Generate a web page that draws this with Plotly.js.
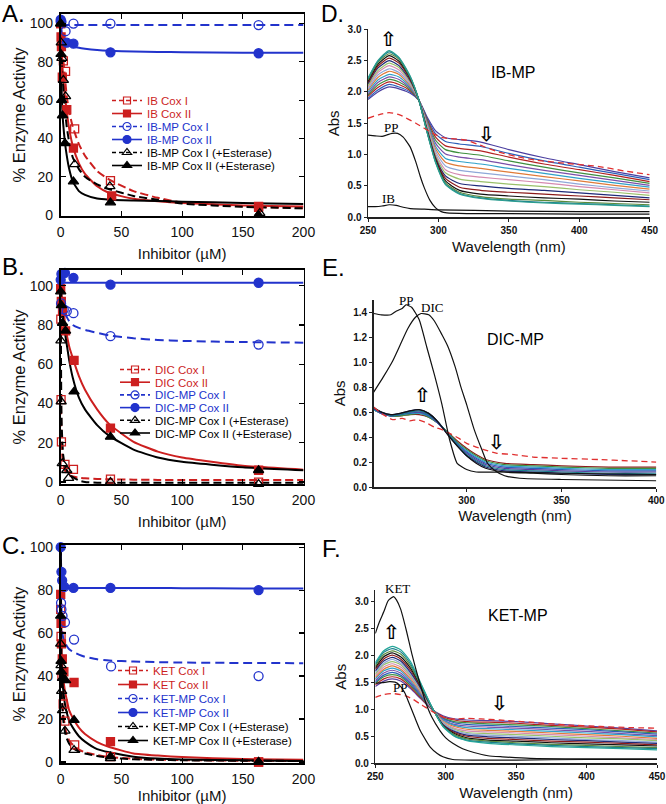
<!DOCTYPE html>
<html><head><meta charset="utf-8">
<script src="https://cdn.plot.ly/plotly-3.0.1.min.js"></script>
<style>html,body{margin:0;padding:0;background:#fff}#chart{width:666px;height:804px}</style>
</head><body><div id="chart"></div>
<script>
// ================= DATA =================
// Common concentration grid for the fitted curves (µM)
const fitGrid = [0,0.5,1,2,3.5,5,7,10,15,20,30,40,60,80,100,150,200];

// ---- Panel A : IB / IB-MP ----
const A_IB_CoxI_x   = [0, 1, 2.2, 4, 11.5, 41, 163];
const A_IB_CoxI_y   = [100, 90, 80.5, 75, 45, 18, 4];
const A_IB_CoxII_x  = [0, 0.3, 0.6, 1.3, 5, 10.5, 42, 163];
const A_IB_CoxII_y  = [100, 93, 88, 72, 55, 35, 10, 4.5];
const A_MP_CoxI_x   = [0, 4, 10.5, 41, 163];
const A_MP_CoxI_y   = [101, 96, 100, 100, 99.2];
const A_MP_CoxII_x  = [0, 0.6, 5, 10.5, 41, 163];
const A_MP_CoxII_y  = [102, 101, 90, 89.5, 85, 84.5];
const A_EstI_x      = [0, 0.5, 1, 2.2, 4, 11.5, 40.5, 164];
const A_EstI_y      = [100, 90, 82, 70.5, 62, 26.5, 15, 1];
const A_EstII_x     = [0, 0.3, 0.8, 1.5, 3.5, 10.5, 41, 163];
const A_EstII_y     = [100, 84, 60, 52, 37.5, 17.5, 6.5, 0];
const A_fit_IB_CoxI  = [100,95,90,82,72,62,54,46,37,31,23,18.5,12.5,9,6.5,4.5,3.6];
const A_fit_IB_CoxII = [100,90,83,72,62,54,45,36,27,21.5,15,11.5,8.5,7.2,6.3,5,4.4];
const A_fit_MP_CoxI  = [100,99.8,99.6,99.4,99.3,99.3,99.3,99.3,99.3,99.3,99.3,99.3,99.3,99.3,99.2,99.2,99.2];
const A_fit_MP_CoxII = [101,97,95,92.5,90.5,89.5,88.8,88.2,87.4,86.9,86.2,85.8,85.4,85.2,85,84.8,84.7];
const A_fit_EstI     = [100,88,80,68,55,46,38,30,24,20,16,13.5,10,8,6,4.3,3.5];
const A_fit_EstII    = [100,72,60,48,38,31,24,17.5,12.5,10.5,8.6,8,7.6,7.3,7,6.3,5.8];

// ---- Panel B : DIC / DIC-MP ----
const B_DIC_CoxI_x  = [0.1, 0.3, 0.6, 3.5, 10.5, 41, 163];
const B_DIC_CoxI_y  = [83, 42, 20.5, 9, 6.5, 1.5, 0];
const B_DIC_CoxII_x = [0, 0.5, 1.5, 4, 11, 41, 163];
const B_DIC_CoxII_y = [98.5, 92, 87, 77, 62, 27.5, 6];
const B_MP_CoxI_x   = [0.3, 2.5, 5, 10.5, 41, 163];
const B_MP_CoxI_y   = [91, 88, 87, 86, 74.3, 70];
const B_MP_CoxII_x  = [0, 0.6, 3.5, 10.5, 41, 163];
const B_MP_CoxII_y  = [103, 106, 106.5, 104, 100.5, 101.5];
const B_EstI_x      = [0.2, 0.4, 1.3, 5, 6.5, 41, 163];
const B_EstI_y      = [72, 41, 9.5, 6, 2, 0, -1];
const B_EstII_x     = [0, 0.6, 1.5, 4, 11, 41, 163];
const B_EstII_y     = [97, 90, 81, 77, 46, 23, 6];
const B_fit_DIC_CoxI  = [100,24,16,9,6,4.5,3.5,2.8,2.2,1.9,1.6,1.4,1.2,1.1,1,1,1];
const B_fit_DIC_CoxII = [100,97,93,87,80,75,69,63,54,47,37,29.5,20.5,15.5,12.5,8.3,6.3];
const B_fit_MP_CoxI   = [100,96,93,89.5,86,84,82,80,78.5,77.5,76,74.7,73.2,72.4,71.9,71.3,71];
const B_fit_MP_CoxII  = [101.5,101.5,101.5,101.5,101.5,101.5,101.5,101.5,101.5,101.5,101.5,101.5,101.5,101.5,101.5,101.5,101.5];
const B_fit_EstI      = [100,40,26,14,8.5,6,4,2.5,0.8,0,-0.3,-0.3,-0.3,-0.3,-0.3,-0.3,-0.3];
const B_fit_EstII     = [100,95,90,84,76,70,62,53,43,37,29,23.5,16.5,12.5,10.3,7.5,6];

// ---- Panel C : KET / KET-MP ----
const C_KET_CoxI_x  = [0, 0.3, 1, 2, 3.5, 11.5, 41, 163];
const C_KET_CoxI_y  = [71, 58.5, 40, 27, 19, 8, 2.5, 0];
const C_KET_CoxII_x = [0, 0.3, 0.6, 1.3, 2.6, 11, 41, 163];
const C_KET_CoxII_y = [78, 64.5, 55, 48, 42, 37, 9.5, 0];
const C_MP_CoxI_x   = [0.3, 0.6, 1.5, 3.5, 11, 41.5, 163];
const C_MP_CoxI_y   = [74, 71, 68, 65, 57, 44.5, 40];
const C_MP_CoxII_x  = [0, 0.6, 1.2, 3, 10.5, 41, 163];
const C_MP_CoxII_y  = [100, 88.5, 84.5, 81.5, 81, 81, 80];
const C_EstI_x      = [0, 0.3, 0.8, 1.5, 3.5, 11, 41, 163];
const C_EstI_y      = [55, 45, 33, 24, 14.5, 5.5, 1.7, 0];
const C_EstII_x     = [0, 0.3, 0.6, 1.5, 4, 11, 41, 163];
const C_EstII_y     = [68, 47, 42, 39, 38, 19.5, 2.5, 0];
const C_fit_KET_CoxI  = [100,44,33,23,16.5,13,10,8,5.8,4.5,3.2,2.3,1.5,1.1,0.9,0.6,0.5];
const C_fit_KET_CoxII = [100,58,48,40,33,29,24,20.5,16,13,9.3,7,4,3,2.3,1.4,1];
const C_fit_MP_CoxI   = [100,72,62,58,55.5,54,52.5,51.3,50,49,47.8,47.2,46.8,46.5,46.3,46.1,46];
const C_fit_MP_CoxII  = [100,88,83.5,81.8,81.2,81,81,81,81,81,81,81,81,81,80.9,80.8,80.8];
const C_fit_EstI      = [100,38,29,20,14,11,8.5,6.5,4.8,4,2.8,2,1.3,1,0.8,0.6,0.5];
const C_fit_EstII     = [100,52,42,34,27,23,19,16,12,9.5,6,4.5,2.5,1.6,1.2,0.8,0.5];

// ---- Legend labels ----
const A_labels = ['IB Cox I','IB Cox II','IB-MP Cox I','IB-MP Cox II','IB-MP Cox I (+Esterase)','IB-MP Cox II (+Esterase)'];
const B_labels = ['DIC Cox I','DIC Cox II','DIC-MP Cox I','DIC-MP Cox II','DIC-MP Cox I (+Esterase)','DIC-MP Cox II (+Esterase)'];
const C_labels = ['KET Cox I','KET Cox II','KET-MP Cox I','KET-MP Cox II','KET-MP Cox I (+Esterase)','KET-MP Cox II (+Esterase)'];

// ---- Panel D : IB-MP spectra ----
const D_wave = [250,257,265,272,280,286,292,298,305,315,330,350,375,400,425,450];
const D_spectra = [
 [1.88,2.00,2.08,2.05,1.98,1.87,1.60,1.38,1.27,1.24,1.20,1.08,0.95,0.84,0.73,0.63],
 [1.90,2.03,2.12,2.08,2.00,1.87,1.58,1.33,1.21,1.17,1.13,1.02,0.90,0.80,0.70,0.60],
 [1.93,2.07,2.16,2.12,2.02,1.87,1.56,1.28,1.14,1.10,1.06,0.96,0.85,0.76,0.67,0.57],
 [1.95,2.11,2.20,2.16,2.04,1.87,1.54,1.23,1.08,1.03,0.99,0.90,0.80,0.71,0.63,0.54],
 [1.97,2.15,2.24,2.20,2.06,1.88,1.52,1.18,1.01,0.96,0.92,0.84,0.75,0.67,0.59,0.51],
 [2.00,2.19,2.28,2.24,2.08,1.88,1.50,1.13,0.94,0.89,0.85,0.78,0.70,0.62,0.55,0.48],
 [2.03,2.23,2.33,2.28,2.10,1.88,1.48,1.09,0.88,0.82,0.78,0.72,0.65,0.58,0.51,0.45],
 [2.05,2.27,2.37,2.31,2.12,1.88,1.46,1.05,0.82,0.75,0.71,0.66,0.60,0.53,0.47,0.42],
 [2.08,2.31,2.42,2.35,2.14,1.88,1.44,1.01,0.76,0.68,0.64,0.60,0.55,0.49,0.44,0.39],
 [2.10,2.34,2.46,2.39,2.16,1.88,1.42,0.98,0.71,0.61,0.57,0.53,0.49,0.44,0.40,0.35],
 [2.13,2.38,2.50,2.42,2.18,1.88,1.40,0.95,0.66,0.54,0.50,0.46,0.43,0.39,0.35,0.31],
 [2.15,2.41,2.54,2.46,2.20,1.88,1.38,0.93,0.62,0.48,0.43,0.40,0.37,0.34,0.31,0.28],
 [2.17,2.44,2.58,2.49,2.22,1.88,1.37,0.91,0.58,0.43,0.37,0.34,0.31,0.29,0.26,0.24],
 [2.19,2.47,2.61,2.52,2.23,1.88,1.36,0.89,0.55,0.40,0.33,0.29,0.27,0.24,0.22,0.20],
 [2.21,2.49,2.64,2.54,2.24,1.88,1.35,0.88,0.53,0.38,0.31,0.27,0.24,0.22,0.20,0.18],
 [2.22,2.50,2.66,2.55,2.25,1.88,1.35,0.87,0.52,0.37,0.30,0.26,0.23,0.21,0.19,0.17]
];
const D_PP_x = [250,255,260,263,267,271,275,280,284,287,290,294,298,302,306,320,350,400,450];
const D_PP_y = [1.31,1.30,1.29,1.31,1.34,1.34,1.28,1.12,0.88,0.66,0.47,0.27,0.15,0.09,0.07,0.06,0.06,0.05,0.05];
const D_IB_x = [250,255,260,265,270,275,280,290,300,350,400,450];
const D_IB_y = [0.17,0.17,0.18,0.20,0.19,0.16,0.14,0.13,0.12,0.10,0.09,0.09];
const D_init_x = [250,258,265,272,284,296,303,312,320,332,343,355,370,391,414,432,450];
const D_init_y = [1.58,1.64,1.67,1.64,1.50,1.34,1.27,1.25,1.23,1.13,1.04,0.97,0.91,0.86,0.81,0.74,0.68];

// ---- Panel E : DIC-MP spectra ----
const E_wave = [251,255,260,265,270,275,280,285,290,295,300,305,310,320,335,350,375,400];
const E_spectra = [
 [0.62,0.59,0.57,0.57,0.58,0.58,0.56,0.51,0.44,0.37,0.31,0.26,0.22,0.19,0.18,0.17,0.16,0.16],
 [0.62,0.59,0.57,0.57,0.58,0.59,0.56,0.51,0.44,0.36,0.30,0.25,0.21,0.18,0.17,0.16,0.15,0.15],
 [0.62,0.59,0.57,0.58,0.59,0.59,0.57,0.51,0.43,0.35,0.29,0.24,0.20,0.17,0.16,0.15,0.14,0.14],
 [0.63,0.59,0.57,0.58,0.59,0.60,0.57,0.51,0.43,0.35,0.28,0.23,0.19,0.16,0.15,0.14,0.13,0.13],
 [0.63,0.59,0.57,0.58,0.60,0.60,0.58,0.51,0.43,0.34,0.27,0.22,0.18,0.15,0.14,0.13,0.12,0.12],
 [0.63,0.60,0.57,0.58,0.60,0.61,0.58,0.52,0.43,0.34,0.26,0.21,0.17,0.14,0.13,0.12,0.11,0.11],
 [0.63,0.60,0.58,0.59,0.61,0.62,0.59,0.52,0.42,0.33,0.25,0.20,0.16,0.13,0.12,0.11,0.10,0.10],
 [0.64,0.60,0.58,0.59,0.61,0.62,0.59,0.52,0.42,0.33,0.25,0.19,0.15,0.12,0.11,0.10,0.09,0.09]
];
const E_PP_x = [251,255,260,263,266,268,271,275,279,283,287,291,295,300,305,320,350,400];
const E_PP_y = [1.39,1.38,1.38,1.41,1.43,1.46,1.44,1.34,1.12,0.90,0.66,0.38,0.19,0.14,0.12,0.12,0.11,0.10];
const E_DIC_x = [251,256,261,265,269,273,276,280,283,287,290,294,297,300,304,308,311,315,320,328,350,400];
const E_DIC_y = [0.76,0.88,1.01,1.14,1.27,1.36,1.39,1.38,1.33,1.22,1.13,0.96,0.80,0.66,0.46,0.30,0.19,0.13,0.09,0.07,0.06,0.05];
const E_init_x = [251,256,261,266,270,274,278,283,287,291,296,300,305,309,316,325,335,350,370,385,400];
const E_init_y = [0.64,0.58,0.54,0.55,0.53,0.54,0.52,0.48,0.46,0.43,0.39,0.35,0.32,0.30,0.27,0.26,0.24,0.23,0.22,0.21,0.20];

// ---- Panel F : KET-MP spectra ----
const F_wave = [250,256,262,268,275,282,290,298,306,315,330,350,375,400,425,450];
const F_spectra = [
 [1.42,1.52,1.56,1.52,1.38,1.20,1.00,0.88,0.82,0.80,0.79,0.77,0.73,0.69,0.65,0.60],
 [1.45,1.56,1.60,1.56,1.41,1.22,1.00,0.86,0.80,0.77,0.76,0.74,0.70,0.67,0.63,0.58],
 [1.48,1.60,1.64,1.60,1.44,1.24,1.01,0.84,0.77,0.75,0.73,0.71,0.68,0.64,0.60,0.56],
 [1.50,1.63,1.68,1.63,1.47,1.26,1.01,0.83,0.75,0.72,0.70,0.68,0.65,0.62,0.58,0.54],
 [1.53,1.67,1.72,1.67,1.50,1.28,1.01,0.81,0.72,0.69,0.67,0.65,0.62,0.59,0.55,0.51],
 [1.56,1.71,1.76,1.71,1.53,1.30,1.02,0.80,0.70,0.66,0.64,0.62,0.59,0.56,0.53,0.49],
 [1.59,1.74,1.80,1.74,1.56,1.32,1.02,0.78,0.68,0.63,0.61,0.59,0.56,0.53,0.50,0.46],
 [1.62,1.78,1.84,1.78,1.59,1.34,1.02,0.77,0.65,0.60,0.58,0.56,0.53,0.50,0.47,0.44],
 [1.65,1.82,1.88,1.82,1.62,1.36,1.03,0.75,0.63,0.57,0.55,0.53,0.50,0.47,0.45,0.42],
 [1.68,1.85,1.92,1.85,1.65,1.38,1.03,0.74,0.61,0.55,0.52,0.50,0.47,0.44,0.42,0.39],
 [1.71,1.89,1.96,1.89,1.68,1.40,1.03,0.72,0.59,0.52,0.49,0.47,0.44,0.42,0.39,0.37],
 [1.74,1.93,2.00,1.93,1.72,1.42,1.04,0.71,0.57,0.50,0.46,0.44,0.41,0.39,0.37,0.34],
 [1.77,1.97,2.04,1.97,1.76,1.44,1.04,0.70,0.55,0.47,0.43,0.41,0.38,0.36,0.34,0.32],
 [1.80,2.01,2.08,2.02,1.80,1.46,1.04,0.69,0.53,0.45,0.41,0.38,0.35,0.33,0.31,0.29],
 [1.83,2.05,2.12,2.06,1.84,1.48,1.05,0.69,0.51,0.43,0.39,0.36,0.33,0.31,0.29,0.27],
 [1.86,2.08,2.16,2.10,1.88,1.50,1.05,0.68,0.50,0.42,0.37,0.34,0.31,0.29,0.27,0.25]
];
const F_KET_x = [250,253,256,259,261,263,265,268,272,276,279,283,286,290,296,300,305,312,320,330,340,360,400,450];
const F_KET_y = [2.40,2.62,2.80,3.00,3.05,3.08,3.02,2.85,2.46,2.02,1.72,1.36,1.11,0.86,0.60,0.47,0.37,0.27,0.20,0.14,0.12,0.09,0.08,0.08];
const F_PP_x = [250,255,260,264,267,271,274,278,282,286,289,294,298,305,320,350,400,450];
const F_PP_y = [1.48,1.49,1.51,1.50,1.45,1.30,1.11,0.85,0.60,0.42,0.30,0.18,0.12,0.07,0.06,0.06,0.07,0.07];
const F_init_x = [250,256,262,268,272,277,281,286,291,296,300,307,315,325,338,360,385,410,430,450];
const F_init_y = [1.22,1.27,1.29,1.27,1.24,1.18,1.11,1.03,0.95,0.88,0.83,0.82,0.83,0.82,0.80,0.76,0.71,0.68,0.66,0.65];

// ================= STYLES =================
const W = 666, H = 804;
const RED = '#cc1f1f', BLUE = '#2233cc', BLK = '#000000';
const FONT = 'Liberation Sans, Arial, Helvetica, sans-serif';
const SERIF = 'Liberation Serif, Times New Roman, serif';
const styles = [
  {color: RED,  symbol: 'square-open',      dash: '8px,4px', size: 8},
  {color: RED,  symbol: 'square',           dash: 'solid',   size: 8},
  {color: BLUE, symbol: 'circle-open',      dash: '9px,5px', size: 9},
  {color: BLUE, symbol: 'circle',           dash: 'solid',   size: 9},
  {color: BLK,  symbol: 'triangle-up-open', dash: '8px,4px', size: 9},
  {color: BLK,  symbol: 'triangle-up',      dash: 'solid',   size: 9}
];
const D_colors = ['#4B3FA0','#2B5FB8','#B22222','#3F8F3F','#7A4FA8','#2FA0C8','#E07B39','#8FA8D8','#D58AB0','#9AC06A','#1E2A78','#8B1A1A','#111111','#5B8A3A','#1B7F8C','#2A9D8F'];
const F_colors = ['#5A3E9E','#B22222','#3F8F3F','#2B5FB8','#7A4FA8','#2FA0C8','#E07B39','#D58AB0','#9AC06A','#8FA8D8','#1E2A78','#8B1A1A','#111111','#5B8A3A','#1B7F8C','#26A69A'];
const E_colors = ['#8B1A1A','#3F8F3F','#2FA0C8','#2B5FB8','#5A3E9E','#1B7F8C','#1E2A78','#111111'];

// ================= TRACES =================
const traces = [];
function addPanel(ax, legendId, labels, pts, fits) {
  const xa = 'x' + (ax === 1 ? '' : ax), ya = 'y' + (ax === 1 ? '' : ax);
  fits.forEach((fy, i) => {
    const s = styles[i];
    traces.push({x: fitGrid, y: fy, xaxis: xa, yaxis: ya, mode: 'lines', showlegend: false,
      line: {color: s.color, width: 2, dash: s.dash, shape: 'spline', smoothing: 0.5}});
  });
  pts.forEach((p, i) => {
    const s = styles[i];
    traces.push({x: p[0], y: p[1], xaxis: xa, yaxis: ya, mode: 'markers', showlegend: false, cliponaxis: false,
      marker: {color: s.color, symbol: s.symbol, size: s.size, line: {color: s.color, width: 1.3}}});
  });
  labels.forEach((lab, i) => {
    const s = styles[i];
    traces.push({x: [null], y: [null], xaxis: xa, yaxis: ya, mode: 'lines+markers', name: '<span style="color:' + s.color + '">' + lab + '</span>',
      legend: legendId, showlegend: true,
      line: {color: s.color, width: 1.6, dash: s.dash === 'solid' ? 'solid' : '4px,3px'},
      marker: {color: s.color, symbol: s.symbol, size: s.size - 1, line: {color: s.color, width: 1.2}}});
  });
}
addPanel(1, 'legend', A_labels,
  [[A_IB_CoxI_x, A_IB_CoxI_y],[A_IB_CoxII_x, A_IB_CoxII_y],[A_MP_CoxI_x, A_MP_CoxI_y],[A_MP_CoxII_x, A_MP_CoxII_y],[A_EstI_x, A_EstI_y],[A_EstII_x, A_EstII_y]],
  [A_fit_IB_CoxI, A_fit_IB_CoxII, A_fit_MP_CoxI, A_fit_MP_CoxII, A_fit_EstI, A_fit_EstII]);
addPanel(2, 'legend2', B_labels,
  [[B_DIC_CoxI_x, B_DIC_CoxI_y],[B_DIC_CoxII_x, B_DIC_CoxII_y],[B_MP_CoxI_x, B_MP_CoxI_y],[B_MP_CoxII_x, B_MP_CoxII_y],[B_EstI_x, B_EstI_y],[B_EstII_x, B_EstII_y]],
  [B_fit_DIC_CoxI, B_fit_DIC_CoxII, B_fit_MP_CoxI, B_fit_MP_CoxII, B_fit_EstI, B_fit_EstII]);
addPanel(3, 'legend3', C_labels,
  [[C_KET_CoxI_x, C_KET_CoxI_y],[C_KET_CoxII_x, C_KET_CoxII_y],[C_MP_CoxI_x, C_MP_CoxI_y],[C_MP_CoxII_x, C_MP_CoxII_y],[C_EstI_x, C_EstI_y],[C_EstII_x, C_EstII_y]],
  [C_fit_KET_CoxI, C_fit_KET_CoxII, C_fit_MP_CoxI, C_fit_MP_CoxII, C_fit_EstI, C_fit_EstII]);

function addSpectra(ax, wave, rows, colors, blacks, init) {
  const xa = 'x' + ax, ya = 'y' + ax;
  rows.forEach((r, i) => traces.push({x: wave, y: r, xaxis: xa, yaxis: ya, mode: 'lines', showlegend: false,
    line: {color: colors[i % colors.length], width: 1.2, shape: 'spline', smoothing: 0.6}}));
  traces.push({x: init[0], y: init[1], xaxis: xa, yaxis: ya, mode: 'lines', showlegend: false,
    line: {color: '#e03030', width: 1.3, dash: '6px,4px', shape: 'spline', smoothing: 0.5}});
  blacks.forEach(b => traces.push({x: b[0], y: b[1], xaxis: xa, yaxis: ya, mode: 'lines', showlegend: false,
    line: {color: '#111', width: 1.2, shape: 'spline', smoothing: 0.5}}));
}
addSpectra(4, D_wave, D_spectra, D_colors, [[D_PP_x, D_PP_y],[D_IB_x, D_IB_y]], [D_init_x, D_init_y]);
addSpectra(5, E_wave, E_spectra, E_colors, [[E_PP_x, E_PP_y],[E_DIC_x, E_DIC_y]], [E_init_x, E_init_y]);
addSpectra(6, F_wave, F_spectra, F_colors, [[F_KET_x, F_KET_y],[F_PP_x, F_PP_y]], [F_init_x, F_init_y]);

// ================= LAYOUT =================
const px = v => v / W, py = v => 1 - v / H;
function inhibAxes(xd, yd, yr, xStandoff) {
  const common = {showline: true, linecolor: '#000', linewidth: 1.8, mirror: 'ticks', ticks: 'inside', ticklen: 5,
    tickwidth: 1.2, tickcolor: '#000', showgrid: false, zeroline: false, tickfont: {family: FONT, size: 14, color: '#111'}};
  return [
    Object.assign({}, common, {domain: xd, range: [0, 200], tick0: 0, dtick: 50, ticklabelstandoff: 2,
      title: {text: 'Inhibitor (µM)', font: {family: FONT, size: 15, color: '#111'}, standoff: xStandoff}}),
    Object.assign({}, common, {domain: yd, range: yr, tick0: 0, dtick: 20, ticklabelstandoff: 3,
      title: {text: '% Enzyme Activity', font: {family: FONT, size: 16.5, color: '#111'}, standoff: 0}})
  ];
}
function specAxes(xd, yd, xr, yr, ydt) {
  const common = {showline: true, linecolor: '#222', linewidth: 1.5, ticks: 'outside', ticklen: 3, tickwidth: 1,
    tickcolor: '#222', showgrid: false, zeroline: false, tickfont: {family: FONT, size: 10, weight: 'bold', color: '#111'}};
  return [
    Object.assign({}, common, {domain: xd, range: xr, tick0: 250, dtick: 50,
      title: {text: 'Wavelength (nm)', font: {family: FONT, size: 15, color: '#111'}, standoff: 6}}),
    Object.assign({}, common, {domain: yd, range: yr, tick0: 0, dtick: ydt, tickformat: '.1f',
      title: {text: 'Abs', font: {family: FONT, size: 15, color: '#111'}, standoff: 4}})
  ];
}
const [xA, yA] = inhibAxes([px(60.7), px(303.5)], [py(216), py(14)], [-0.5, 105], 10);
const [xB, yB] = inhibAxes([px(60.7), px(303.5)], [py(484), py(270)], [-1, 108], 10);
const [xC, yC] = inhibAxes([px(60.7), px(303.5)], [py(763.3), py(545)], [-0.6, 101], 7);
const [xD, yD] = specAxes([px(368), px(649.7)], [py(217.3), py(29.3)], [250, 450], [0, 3.0], 0.5);
const [xE, yE] = specAxes([px(373.7), px(656.3)], [py(487), py(299.8)], [251, 400], [0, 1.5], 0.2);
const [xF, yF] = specAxes([px(375.3), px(657)], [py(763.3), py(590.2)], [250, 450], [0, 3.2], 0.5);
yA.anchor = 'x'; xA.anchor = 'y';
yB.anchor = 'x2'; xB.anchor = 'y2';
yC.anchor = 'x3'; xC.anchor = 'y3';
yD.anchor = 'x4'; xD.anchor = 'y4';
yE.anchor = 'x5'; xE.anchor = 'y5';
yF.anchor = 'x6'; xF.anchor = 'y6';

function note(text, x, y, size, opts) {
  return Object.assign({text: text, x: px(x), y: py(y), xref: 'paper', yref: 'paper', showarrow: false,
    xanchor: 'center', yanchor: 'middle', font: {family: FONT, size: size, color: '#000'}}, opts || {});
}
const ARROW_FONT = {family: 'DejaVu Sans, sans-serif', size: 20, color: '#000', weight: 'bold'};
const SERIF_FONT = {family: SERIF, size: 13, color: '#000'};
const annotations = [
  note('A.', 0, 14, 24, {xanchor: 'left'}),
  note('B.', 0, 266, 24, {xanchor: 'left'}),
  note('C.', 0, 545, 24, {xanchor: 'left'}),
  note('D.', 319, 14, 23, {xanchor: 'left'}),
  note('E.', 320, 267, 24, {xanchor: 'left'}),
  note('F.', 320, 548, 24, {xanchor: 'left'}),
  note('IB-MP', 513, 72, 16),
  note('DIC-MP', 515, 340, 16),
  note('KET-MP', 518, 615, 16),
  note('PP', 391, 127, 13, {font: SERIF_FONT}),
  note('IB', 388, 199, 13, {font: SERIF_FONT}),
  note('PP', 406, 300, 13, {font: SERIF_FONT}),
  note('DIC', 432, 307, 13, {font: SERIF_FONT}),
  note('KET', 397, 588, 13, {font: SERIF_FONT}),
  note('PP', 400, 687, 13, {font: SERIF_FONT}),
  note('⇧', 388, 39, 20, {font: ARROW_FONT}),
  note('⇩', 486, 134, 20, {font: ARROW_FONT}),
  note('⇧', 423, 395, 20, {font: ARROW_FONT}),
  note('⇩', 496, 442, 20, {font: ARROW_FONT}),
  note('⇧', 391, 632, 20, {font: ARROW_FONT}),
  note('⇩', 500, 703, 20, {font: ARROW_FONT})
];
const legendBase = {bgcolor: 'rgba(0,0,0,0)', borderwidth: 0, font: {family: FONT, size: 11.5}, xanchor: 'left', yanchor: 'top',
  itemwidth: 30, tracegroupgap: 0, traceorder: 'normal'};

const layout = {
  width: W, height: H, margin: {l: 0, r: 0, t: 0, b: 0},
  paper_bgcolor: '#fff', plot_bgcolor: '#fff', font: {family: FONT},
  xaxis: xA, yaxis: yA, xaxis2: xB, yaxis2: yB, xaxis3: xC, yaxis3: yC,
  xaxis4: xD, yaxis4: yD, xaxis5: xE, yaxis5: yE, xaxis6: xF, yaxis6: yF,
  legend: Object.assign({}, legendBase, {x: px(107), y: py(86)}),
  legend2: Object.assign({}, legendBase, {x: px(115), y: py(355)}),
  legend3: Object.assign({}, legendBase, {x: px(113), y: py(656)}),
  annotations: annotations,
  showlegend: true
};

Plotly.newPlot('chart', traces, layout, {staticPlot: true, displayModeBar: false}).then(gd => {
  const spacing = {legend: 13, legend2: 12.7, legend3: 14};
  Object.keys(spacing).forEach(cls => {
    const lg = gd.querySelector('g.' + cls);
    if (!lg) return;
    const items = Array.from(lg.querySelectorAll('g.traces'));
    if (!items.length) return;
    const parse = el => {
      const m = /translate\(\s*([-\d.e]+)[ ,]+([-\d.e]+)/.exec(el.getAttribute('transform') || '');
      return m ? [parseFloat(m[1]), parseFloat(m[2])] : [0, 0];
    };
    const first = parse(items[0]);
    items.forEach((el, i) => {
      const t = parse(el);
      el.setAttribute('transform', 'translate(' + t[0] + ',' + (first[1] + i * spacing[cls]) + ')');
    });
  });
});
</script>
</body></html>
